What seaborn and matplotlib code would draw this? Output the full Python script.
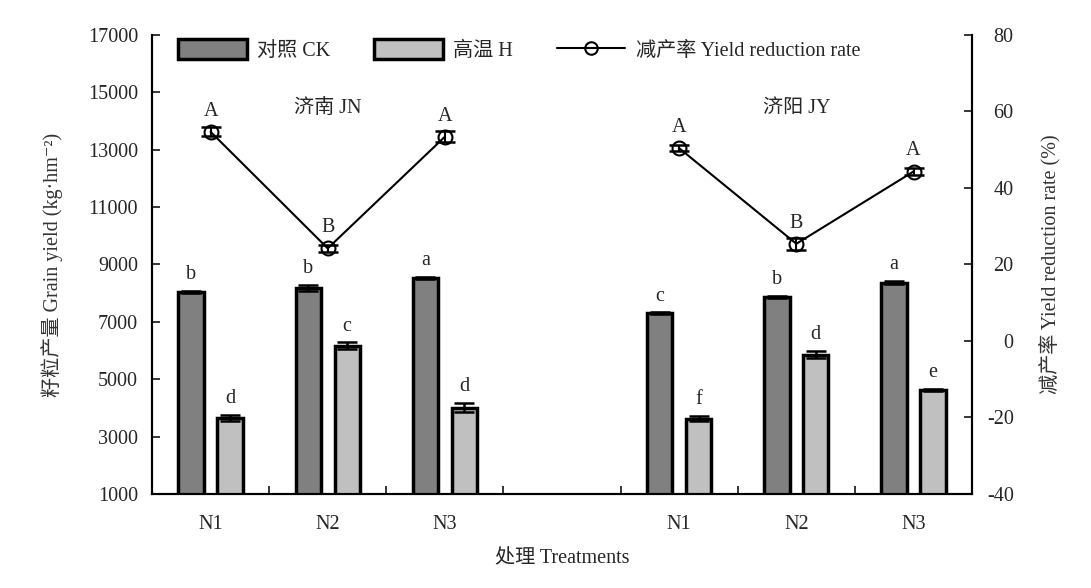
import numpy as np
import pandas as pd
import matplotlib
matplotlib.use("Agg")
import matplotlib.pyplot as plt
import seaborn as sns
from matplotlib.patches import Patch
from matplotlib.lines import Line2D

sns.set_theme(style="ticks")
plt.rcParams["font.family"] = ["Liberation Serif", "Noto Sans CJK SC", "DejaVu Serif"]
plt.rcParams["axes.unicode_minus"] = False

# data
sites = ["济南 JN", "济阳 JY"]
site_center = [1, 5]
treat = ["N1", "N2", "N3", "N1", "N2", "N3"]
slot = [0, 1, 2, 4, 5, 6]

ck_yield = [8050, 8170, 8540, 7300, 7860, 8370]
ck_err = [30, 110, 30, 25, 30, 50]
ck_letters = ["b", "b", "a", "c", "b", "a"]

h_yield = [3640, 6170, 4010, 3620, 5850, 4630]
h_err = [100, 110, 150, 90, 120, 30]
h_letters = ["d", "c", "d", "f", "d", "e"]

rate = [54.7, 24.2, 53.4, 50.4, 25.4, 44.3]
rate_err = [1.2, 0.9, 1.5, 0.8, 1.5, 1.0]
rate_letters = ["A", "B", "A", "A", "B", "A"]

dark = "#808080"
light = "#c0c0c0"
fs = 14.5

bars = pd.DataFrame({
    "pos": slot * 2,
    "group": ["对照 CK"] * 6 + ["高温 H"] * 6,
    "yield": ck_yield + h_yield,
})
rates = pd.DataFrame({"pos": slot, "rate": rate, "site": [sites[0]] * 3 + [sites[1]] * 3})

fig = plt.figure(figsize=(10.91, 5.88), dpi=100)
ax = fig.add_axes([0.1393, 0.160, 0.7517, 0.7805])

sns.barplot(data=bars, x="pos", y="yield", hue="group", native_scale=True,
            palette=[dark, light], width=0.664, gap=0.35, edgecolor="black",
            linewidth=2.5, errorbar=None, legend=False, saturation=1, ax=ax)

off = 0.166
xs_ck = np.array(slot) - off
xs_h = np.array(slot) + off
ax.errorbar(xs_ck, ck_yield, yerr=ck_err, fmt="none", ecolor="black",
            elinewidth=1.8, capsize=7, capthick=1.8, zorder=5)
ax.errorbar(xs_h, h_yield, yerr=h_err, fmt="none", ecolor="black",
            elinewidth=1.8, capsize=7, capthick=1.8, zorder=5)

for x, y, e, t in zip(xs_ck, ck_yield, ck_err, ck_letters):
    ax.annotate(t, (x, y + e), xytext=(0, 5), textcoords="offset points",
                ha="center", va="bottom", fontsize=fs)
for x, y, e, t in zip(xs_h, h_yield, h_err, h_letters):
    ax.annotate(t, (x, y + e), xytext=(0, 5), textcoords="offset points",
                ha="center", va="bottom", fontsize=fs)

ax.set_xlim(-0.5, 6.5)
ax.set_ylim(1000, 17000)
ax.set_yticks(np.arange(1000, 17001, 2000))
ax.set_xticks(slot)
ax.set_xticklabels(treat)
ax.set_xticks(np.arange(0.5, 6, 1), minor=True)
ax.tick_params(axis="x", which="major", length=0, pad=15, labelsize=fs)
ax.tick_params(axis="x", which="minor", length=6, width=1.3, direction="in")
ax.tick_params(axis="y", direction="in", length=6, width=1.3, pad=10, labelsize=fs)
ax.set_xlabel("处理 Treatments", fontsize=fs, labelpad=11)
ax.set_ylabel("籽粒产量 Grain yield (kg·hm⁻²)", fontsize=fs, labelpad=18, color="#333333")

for i, s in enumerate(sites):
    ax.text(site_center[i], 14450, s, ha="center", va="center", fontsize=fs)

ax2 = ax.twinx()
for s in sites:
    sns.lineplot(data=rates[rates["site"] == s], x="pos", y="rate", color="black",
                 marker="o", markersize=10, markerfacecolor="none",
                 markeredgecolor="black", markeredgewidth=1.5, linewidth=1.5, ax=ax2)
ax2.errorbar(slot, rate, yerr=rate_err, fmt="none", ecolor="black",
             elinewidth=1.5, capsize=7, capthick=1.8, zorder=5)
for x, y, e, t in zip(slot, rate, rate_err, rate_letters):
    ax2.annotate(t, (x, y), xytext=(0, 8), textcoords="offset points",
                 ha="center", va="bottom", fontsize=fs)

ax2.set_ylim(-40, 80)
ax2.set_yticks(np.arange(-40, 81, 20))
ax2.tick_params(axis="y", direction="in", length=6, width=1.3, pad=30, labelsize=fs)
for lab in ax2.get_yticklabels():
    lab.set_horizontalalignment("right")
ax2.set_ylabel("减产率 Yield reduction rate (%)", fontsize=fs, labelpad=18, color="#333333")
ax2.set_xlabel("")

for a in (ax, ax2):
    a.spines["top"].set_visible(False)
    for side in ("left", "right", "bottom"):
        a.spines[side].set_linewidth(1.5)
        a.spines[side].set_color("black")

handles = [
    Patch(facecolor=dark, edgecolor="black", linewidth=2.5),
    Patch(facecolor=light, edgecolor="black", linewidth=2.5),
    Line2D([], [], color="black", marker="o", markersize=9, markerfacecolor="none",
           markeredgewidth=1.5, linewidth=1.5),
]
ax2.legend(handles, ["对照 CK", "高温 H", "减产率 Yield reduction rate"],
           loc="upper left", bbox_to_anchor=(0.01, 1.03), ncol=3, frameon=False,
           fontsize=fs, handlelength=3.4, handleheight=1.1, columnspacing=2.2,
           handletextpad=0.5)

fig.savefig("out.png", dpi=100)
